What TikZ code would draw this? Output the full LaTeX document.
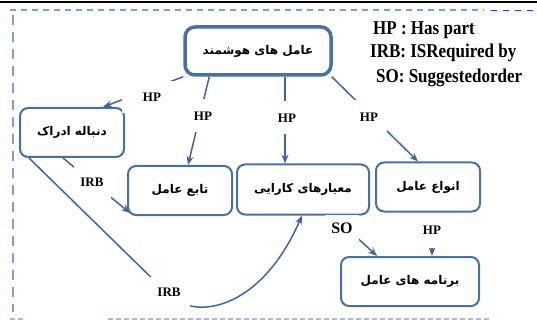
\documentclass[tikz,border=0pt]{standalone}
\usepackage{fontspec}
\setmainfont{Liberation Serif}
\newfontfamily\fa[Script=Arabic]{DejaVu Sans}
\TeXXeTstate=1
\usetikzlibrary{arrows.meta,calc}
\definecolor{boxc}{RGB}{74,112,160}
\definecolor{edgec}{RGB}{64,102,152}
\definecolor{frame}{RGB}{126,160,206}
\definecolor{blued}{RGB}{30,60,255}
\begin{document}
\begin{tikzpicture}[x=1pt,y=-1pt,
  box/.style={draw=boxc,line width=2pt,rounded corners=8pt,fill=white,
    inner sep=0pt,font=\fa\bfseries\fontsize{12}{14}\selectfont},
  mainbox/.style={box,line width=3.5pt,rounded corners=10pt},
  conn/.style={draw=edgec,line width=1.5pt,-{Stealth[length=9pt,width=7pt]}},
  lbl/.style={fill=white,inner sep=0pt,font=\bfseries\fontsize{13}{13}\selectfont},
  legend/.style={anchor=west,inner sep=0pt,yscale=1.15,transform shape,font=\bfseries\fontsize{17}{17}\selectfont}]
\useasboundingbox (0,0) rectangle (537,320);
% frame
\draw[black,line width=1.5pt] (0,2) -- (537,2);
\draw[frame,line width=2pt,dash pattern=on 6pt off 5pt] (10,10) -- (484,10);
\draw[blued,line width=1pt,dash pattern=on 6pt off 6pt] (491,11) -- (537,11);
\draw[frame,line width=2pt,dash pattern=on 10pt off 7pt] (13,15) -- (13,312);
\draw[frame!70,line width=1.5pt,dash pattern=on 5pt off 3pt] (10,319) -- (26,319);
\draw[frame!70,line width=1.5pt,dash pattern=on 5pt off 3pt] (108,319) -- (490,319);
% boxes
\node[mainbox,minimum width=146pt,minimum height=48pt] (main) at (258,51) {\beginR عامل های هوشمند\endR};
\node[box,minimum width=104pt,minimum height=49pt] (dun) at (72,132.5) {\beginR دنباله ادراک\endR};
\node[box,minimum width=104pt,minimum height=49pt] (tab) at (180,190.5) {\beginR تابع عامل\endR};
\node[box,minimum width=132pt,minimum height=50pt] (mea) at (303,189.5) {\beginR معیارهای کارایی\endR};
\node[box,minimum width=104pt,minimum height=49pt] (anv) at (428,187) {\beginR انواع عامل\endR};
\node[box,minimum width=138pt,minimum height=49pt] (prog) at (410,281.5) {\beginR برنامه های عامل\endR};
% connectors
\draw[conn] (main.south west) -- ($(dun.north east)+(-22,0)$);
\draw[conn] ($(main.south west)+(26,0)$) -- ($(tab.north)+(8,0)$);
\draw[conn] ($(main.south)+(27,0)$) -- ($(mea.north)+(-18,0)$);
\draw[conn] ($(main.south east)+(-1,0)$) -- ($(anv.north)+(-10,0)$);
\draw[conn] ($(anv.south)+(4,0)$) -- ($(prog.north)+(22,0)$);
\draw[conn] ($(mea.south)+(30,0)$) -- ($(prog.north west)+(37,0)$);
\draw[conn] ($(dun.south)+(-9,0)$) -- ($(tab.south west)+(3,-3)$);
\coordinate (bend) at (166,292);
\draw[conn] ($(dun.south west)+(10,0)$) -- (bend)
   .. controls (192,322) and (260,312) .. ($(mea.south)+(-1,0)$);
% labels
\node[lbl,minimum width=60pt,minimum height=32pt] (l1) at (152,97) {HP};
\node[lbl,minimum width=30pt,minimum height=33pt] (l2) at (203,116) {HP};
\node[lbl,minimum width=30pt,minimum height=33pt] (l3) at (287,118) {HP};
\node[lbl,minimum width=36pt,minimum height=34pt] (l4) at (369,117) {HP};
\node[lbl,minimum width=24pt,minimum height=35pt] (l5) at (432,230) {HP};
\node[lbl,minimum width=37pt,minimum height=33pt] (l6) at (92,182) {IRB};
\node[lbl,minimum width=42pt,minimum height=30pt] (l7) at (169,292) {IRB};
\node[lbl,minimum width=34pt,minimum height=26pt,font=\bfseries\fontsize{16}{16}\selectfont] (l8) at (342,228) {SO};
% legend
\node[legend] (k1) at (373,30) {HP : Has part};
\node[legend] (k2) at (370,53) {IRB: ISRequired by};
\node[legend] (k3) at (376,78) {SO: Suggestedorder};
\end{tikzpicture}
\end{document}
